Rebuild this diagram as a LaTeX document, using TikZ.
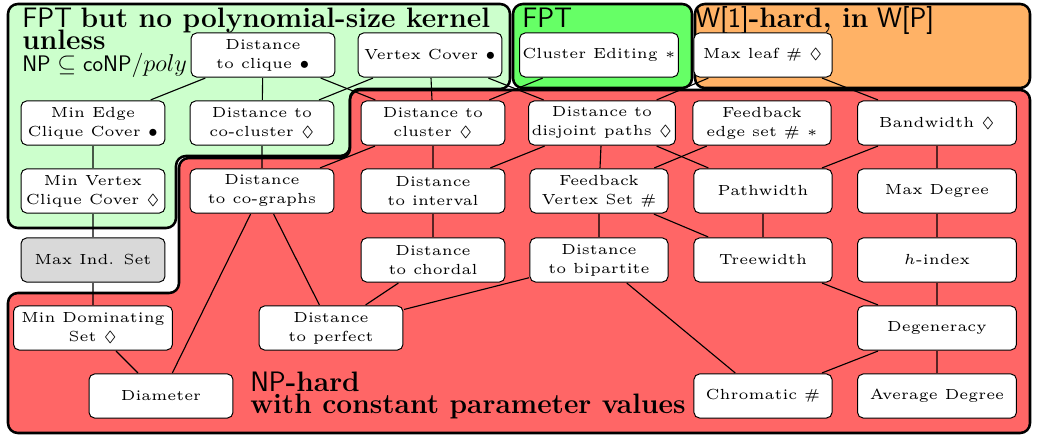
\documentclass[tikz,border=0pt]{standalone}
\usepackage{amsmath, amssymb}
\usepackage[dvipsnames]{xcolor}
\usepackage{tikz}
\usetikzlibrary{positioning}
\definecolor{fptlight}{rgb}{0.8,1,0.8}
\definecolor{fptgreen}{rgb}{0.4,1,0.4}
\definecolor{whard}{rgb}{1,0.7,0.4}
\definecolor{nphard}{rgb}{1,0.4,0.4}
\definecolor{misgray}{rgb}{0.85,0.85,0.85}

\begin{document}
\begin{tikzpicture}[x=0.025cm,y=-0.025cm,
    region/.style={draw=black,line width=1.8pt,rounded corners=7pt},
    param/.style={draw=black,fill=white,line width=0.7pt,rounded corners=4pt,
      align=center,font=\fontsize{5}{6.5}\selectfont,scale=2.08,inner sep=1pt,
      minimum width=1.73cm,minimum height=0.53cm},
    wide/.style={minimum width=1.91cm},
    narrow/.style={minimum width=1.66cm},
    heading/.style={anchor=base west,inner sep=0pt,
      font={\fontsize{20}{15.6}\selectfont\lineskiplimit=-50pt}},
    edge/.style={line width=0.8pt}]
        \useasboundingbox (0,0) rectangle (1042,438);
        %Regions
        \draw[region,fill=fptlight] (8,4) -- (510,4) -- (510,89) -- (350,89) -- (350,156)
            -- (176,156) -- (176,228) -- (8,228) -- cycle;
        \draw[region,fill=fptgreen] (513,4) rectangle (692,88);
        \draw[region,fill=whard] (695,4) rectangle (1030,88);
        \draw[region,fill=nphard] (350,90) -- (1030,90) -- (1030,433) -- (8,433) -- (8,293)
            -- (179,293) -- (179,158) -- (350,158) -- cycle;
        %Labels
        \node[heading,align=left,anchor=north west] (kernel) at (22,7.5)
            {\textsf{FPT} \textbf{but no polynomial-size kernel}\\
             \textbf{unless}\\
             {\fontsize{16}{16}\selectfont\textsf{NP} $\subseteq$ \textsf{coNP}$/poly$}};
        \node[heading] (fpt) at (522,28) {\textsf{FPT}};
        \node[heading] (wone) at (695,28) {\textsf{W[1]}\textbf{-hard, in} \textsf{W[P]}};
        \node[heading,align=left,anchor=north west] (nph) at (250,371.5)
            {\textsf{NP}\textbf{-hard}\\
             \textbf{with constant parameter values}};
        %Parameters
        \node[param] (clique) at (263,55) {Distance\\to clique $\bullet$};
        \node[param] (vc) at (430,55) {Vertex Cover $\bullet$};
        \node[param] (ce) at (599,55) {Cluster Editing $*$};
        \node[param,narrow] (maxleaf) at (763,55) {Max leaf \# $\Diamond$};
        \node[param] (mecc) at (93,123) {Min Edge\\Clique Cover $\bullet$};
        \node[param] (cocluster) at (262,123) {Distance to\\co-cluster $\Diamond$};
        \node[param] (cluster) at (433,123) {Distance to\\cluster $\Diamond$};
        \node[param] (djp) at (602,123) {Distance to\\disjoint paths $\Diamond$};
        \node[param,narrow] (fes) at (762,123) {Feedback\\edge set \# $*$};
        \node[param,wide] (bw) at (937,123) {Bandwidth $\Diamond$};
        \node[param] (mvcc) at (93,191) {Min Vertex\\Clique Cover $\Diamond$};
        \node[param] (cographs) at (262,191) {Distance\\to co-graphs};
        \node[param] (interval) at (433,191) {Distance\\to interval};
        \node[param,narrow] (fvs) at (599,191) {Feedback\\Vertex Set \#};
        \node[param,narrow] (pw) at (763,191) {Pathwidth};
        \node[param,wide] (maxdeg) at (937,191) {Max Degree};
        \node[param,fill=misgray] (mis) at (93,260) {Max Ind. Set};
        \node[param] (chordal) at (433,260) {Distance\\to chordal};
        \node[param,narrow] (bip) at (599,260) {Distance\\to bipartite};
        \node[param,narrow] (tw) at (763,260) {Treewidth};
        \node[param,wide] (hindex) at (937,260) {$h$-index};
        \node[param,wide] (mds) at (93,328) {Min Dominating\\Set $\Diamond$};
        \node[param] (perfect) at (331,328) {Distance\\to perfect};
        \node[param,wide] (degen) at (937,328) {Degeneracy};
        \node[param] (diam) at (161,396) {Diameter};
        \node[param,narrow] (chrom) at (763,396) {Chromatic \#};
        \node[param,wide] (avgdeg) at (937,396) {Average Degree};
        %Edges
        \draw[edge] (clique) -- (mecc);
        \draw[edge] (clique) -- (cocluster);
        \draw[edge] (clique) -- (cluster);
        \draw[edge] (vc) -- (cocluster);
        \draw[edge] (vc) -- (cluster);
        \draw[edge] (vc) -- (djp);
        \draw[edge] (ce) -- (cluster);
        \draw[edge] (maxleaf) -- (djp);
        \draw[edge] (maxleaf) -- (bw);
        \draw[edge] (mecc) -- (mvcc);
        \draw[edge] (cocluster) -- (cographs);
        \draw[edge] (cluster) -- (cographs);
        \draw[edge] (cluster) -- (interval);
        \draw[edge] (djp) -- (interval);
        \draw[edge] (djp) -- (fvs);
        \draw[edge] (djp) -- (pw);
        \draw[edge] (fes) -- (fvs);
        \draw[edge] (bw) -- (pw);
        \draw[edge] (bw) -- (maxdeg);
        \draw[edge] (mvcc) -- (mis);
        \draw[edge] (cographs) -- (diam);
        \draw[edge] (cographs) -- (perfect);
        \draw[edge] (interval) -- (chordal);
        \draw[edge] (fvs) -- (bip);
        \draw[edge] (fvs) -- (tw);
        \draw[edge] (pw) -- (tw);
        \draw[edge] (maxdeg) -- (hindex);
        \draw[edge] (mis) -- (mds);
        \draw[edge] (chordal) -- (perfect);
        \draw[edge] (bip) -- (perfect);
        \draw[edge] (bip) -- (chrom);
        \draw[edge] (tw) -- (degen);
        \draw[edge] (hindex) -- (degen);
        \draw[edge] (mds) -- (diam);
        \draw[edge] (degen) -- (chrom);
        \draw[edge] (degen) -- (avgdeg);
\end{tikzpicture}
\end{document}
